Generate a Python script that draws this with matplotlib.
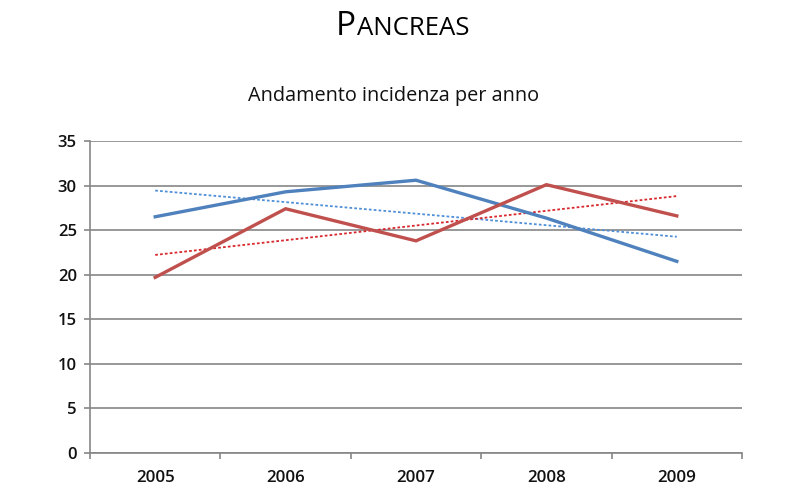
import numpy as np
import matplotlib
matplotlib.use("Agg")
import matplotlib.pyplot as plt

years = ["2005", "2006", "2007", "2008", "2009"]
serie_blu = [26.5, 29.3, 30.6, 26.35, 21.5]
serie_rossa = [19.7, 27.4, 23.8, 30.1, 26.6]
y_ticks = [0, 5, 10, 15, 20, 25, 30, 35]

BLUE = "#4F81BD"
RED = "#C0504D"
BLUE_T = "#4F8FD8"
RED_T = "#D8272D"
GRID = "#868686"
FONT = "Open Sans"

plt.rcParams["font.family"] = [FONT, "DejaVu Sans"]

fig = plt.figure(figsize=(8, 5), dpi=100)
ax = fig.add_axes([0.1125, 0.094, 0.815, 0.624])

x = np.arange(len(years))
ax.plot(x, serie_blu, color=BLUE, lw=2.4, solid_joinstyle="miter", zorder=4)
ax.plot(x, serie_rossa, color=RED, lw=2.4, solid_joinstyle="miter", zorder=4)

for s, c in ((serie_blu, BLUE_T), (serie_rossa, RED_T)):
    m, q = np.polyfit(x, s, 1)
    ax.plot(x, m * x + q, color=c, lw=1.3, linestyle=(0, (1.5, 1.2)), zorder=3)

ax.set_xlim(-0.5, len(years) - 0.5)
ax.set_ylim(0, 35)
ax.set_yticks(y_ticks)
ax.set_yticklabels([str(v) for v in y_ticks], fontsize=12, color="#111111",
                   fontweight="semibold")
ax.set_xticks(x)
ax.set_xticklabels(years, fontsize=12.2, color="#111111", fontweight="semibold")
ax.set_xticks(np.arange(-0.5, len(years)), minor=True)
ax.tick_params(axis="x", which="major", length=0, pad=12)
ax.tick_params(axis="x", which="minor", length=4.5, width=1.2, color=GRID)
ax.tick_params(axis="y", length=4.5, width=1.2, color=GRID, pad=5)

ax.yaxis.grid(True, color=GRID, lw=1.2)
ax.set_axisbelow(True)
for side in ("top", "right"):
    ax.spines[side].set_visible(False)
for side in ("left", "bottom"):
    ax.spines[side].set_color(GRID)
    ax.spines[side].set_linewidth(1.2)

# Title in small caps: "PANCREAS"
renderer = fig.canvas.get_renderer()
t1 = fig.text(0, 0.93, "P", fontsize=24, ha="left", va="baseline", color="black")
t2 = fig.text(0, 0.93, "ANCREAS", fontsize=18.5, ha="left", va="baseline", color="black")
w1 = t1.get_window_extent(renderer).width
w2 = t2.get_window_extent(renderer).width
x0 = (402 - (w1 + w2) / 2) / 800
t1.set_x(x0)
t2.set_x(x0 + (w1 + 1) / 800)

fig.text(0.4925, 0.798, "Andamento incidenza per anno", fontsize=14.3, ha="center",
         va="baseline", color="#111111")

fig.savefig("out.png", dpi=100)
